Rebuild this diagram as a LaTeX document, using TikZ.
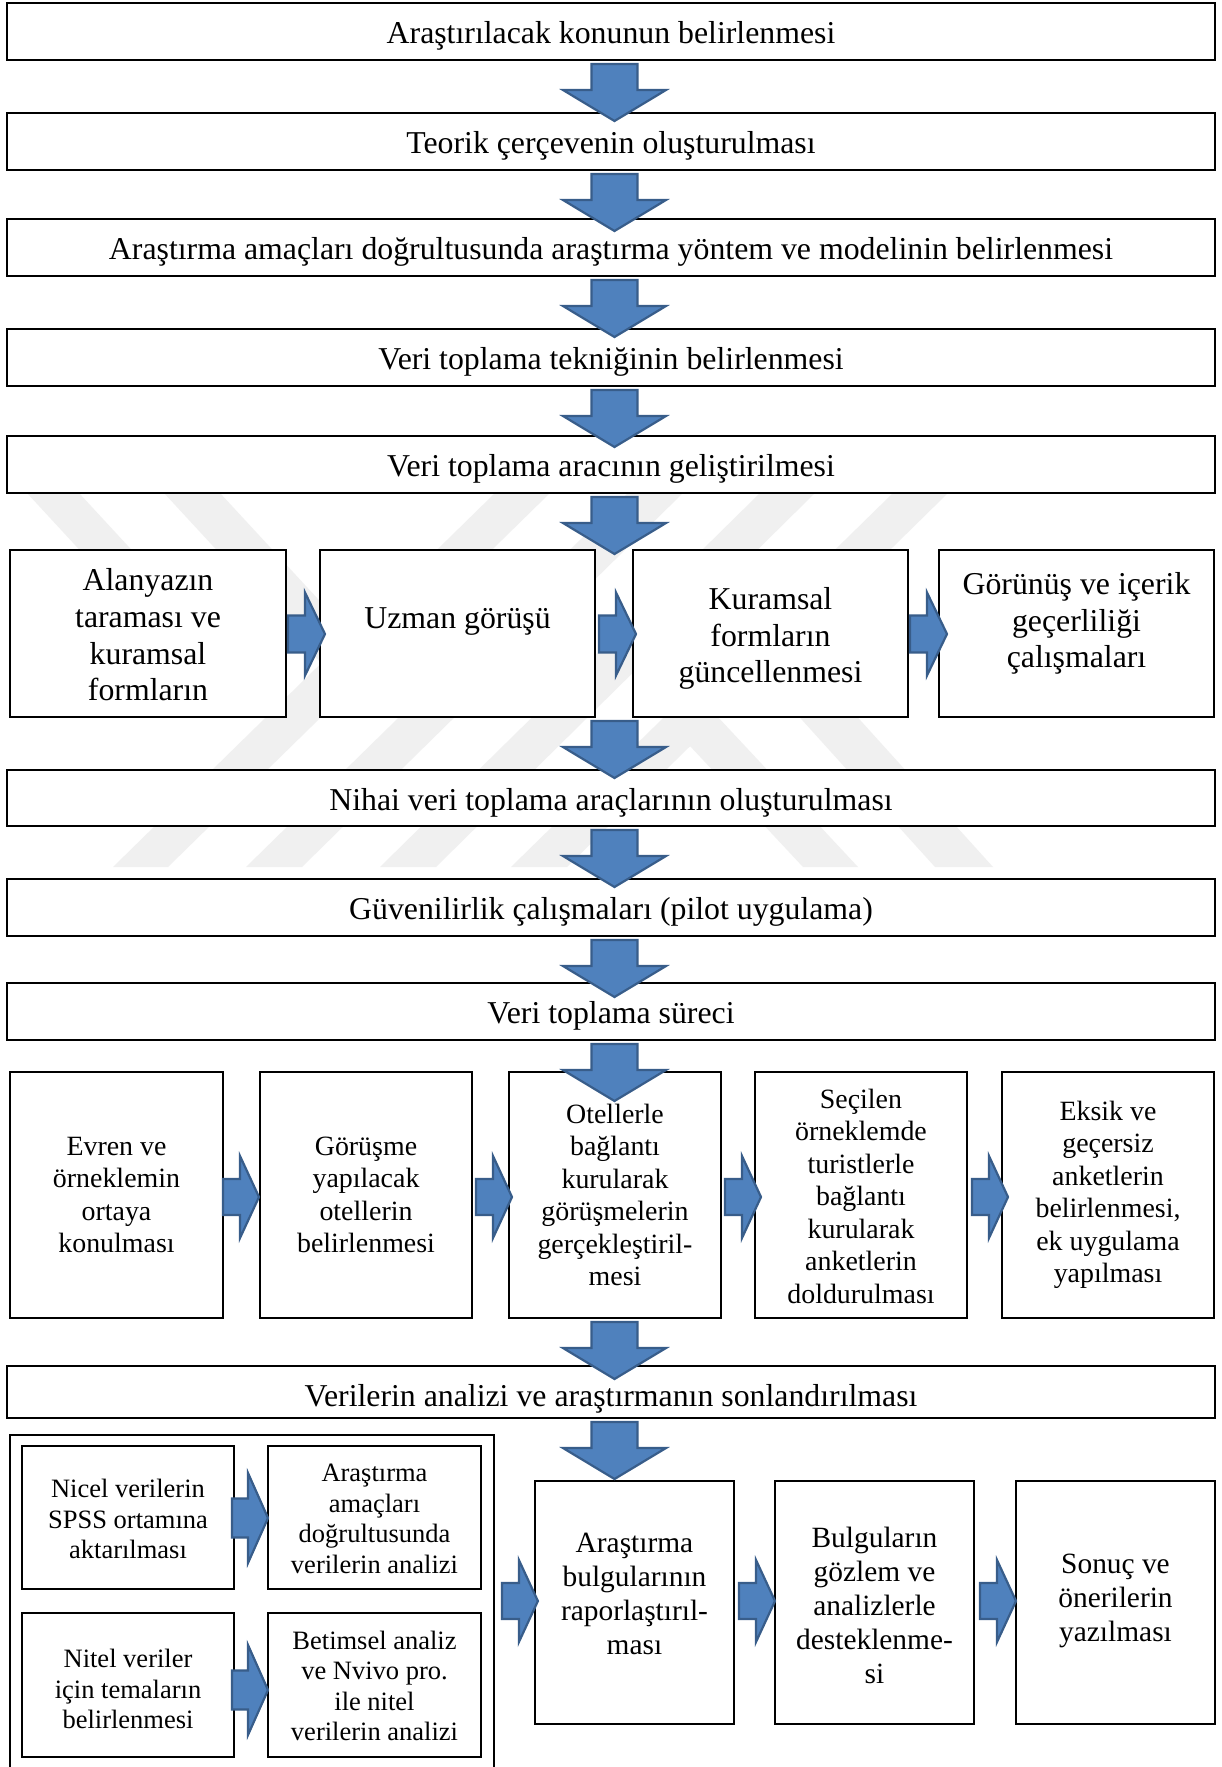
\documentclass[tikz,border=0pt]{standalone}
\usepackage{fontspec}
\setmainfont{Liberation Serif}
\usetikzlibrary{calc}
\definecolor{arrfill}{HTML}{4F81BD}
\definecolor{arrline}{HTML}{385D8A}
\definecolor{wmgray}{HTML}{F0F0F0}

\newcommand{\dnarrow}[1]{%
  \draw[arrst] ($(axis |- #1.south)+(-23,4)$) -- ++(46,0) -- ++(0,26) -- ++(28.5,0)
    -- ++(-51.5,31) -- ++(-51.5,-31) -- ++(28.5,0) -- cycle;}
% #1 start coordinate expr, #2 shaft half height, #3 head half height, #4 shaft length, #5 head length
\newcommand{\rtarrow}[5]{%
  \draw[arrst] ($#1+(0,-#2)$) -- ++(#4,0) -- ++(0,{-(#3-#2)}) -- ++(#5,#3)
    -- ++(-#5,#3) -- ++(0,{-(#3-#2)}) -- ++(-#4,0) -- cycle;}

\begin{document}
\begin{tikzpicture}[x=1pt,y=-1pt,
  boxst/.style={draw=black, line width=1.8pt, fill=white, inner sep=0pt, outer sep=0pt},
  bigtxt/.style={font=\fontsize{31.8}{36.7}\selectfont, align=center, inner sep=0pt},
  rowbtxt/.style={font=\fontsize{27.9}{32.5}\selectfont, align=center, inner sep=0pt},
  ctxt/.style={font=\fontsize{26.5}{30.5}\selectfont, align=center, inner sep=0pt},
  dtxt/.style={font=\fontsize{29.4}{34}\selectfont, align=center, inner sep=0pt},
  arrst/.style={fill=arrfill, draw=arrline, line width=2.2pt, line join=miter},
  wmst/.style={fill=wmgray, draw=none}]

\useasboundingbox (0,0) rectangle (1222,1767);
\clip (0,0) rectangle (1222,1767);
\fill[white] (0,0) rectangle (1222,1767);
\coordinate (axis) at (614.5,0);

% watermark stripes
\fill[wmst] (495,493) -- (550,493) -- (168,867) -- (113,867) -- cycle;
\fill[wmst] (628,493) -- (683,493) -- (302,867) -- (246,867) -- cycle;
\fill[wmst] (760,493) -- (815,493) -- (436,867) -- (380,867) -- cycle;
\fill[wmst] (893,493) -- (948,493) -- (567,867) -- (511,867) -- cycle;
\fill[wmst] (27,493) -- (79,493) -- (261,690) -- (209,690) -- cycle;
\fill[wmst] (164,493) -- (220,493) -- (402,690) -- (346,690) -- cycle;
\fill[wmst] (647,700) -- (702,700) -- (858,867) -- (803,867) -- cycle;
\fill[wmst] (784,700) -- (842,700) -- (993,867) -- (935,867) -- cycle;

% top boxes
\node[boxst, minimum width=1208pt, minimum height=57pt] (b1) at (611,31.5) {};
\node[boxst, minimum width=1208pt, minimum height=57pt] (b2) at (611,141.5) {};
\node[boxst, minimum width=1208pt, minimum height=57pt] (b3) at (611,247.5) {};
\node[boxst, minimum width=1208pt, minimum height=57pt] (b4) at (611,357.5) {};
\node[boxst, minimum width=1208pt, minimum height=57pt] (b5) at (611,464.5) {};
\node[bigtxt] (t1) at ($(b1.center)+(0,4)$) {Araştırılacak konunun belirlenmesi};
\node[bigtxt] (t2) at ($(b2.center)+(0,4)$) {Teorik çerçevenin oluşturulması};
\node[bigtxt] (t3) at ($(b3.center)+(0,4)$) {Araştırma amaçları doğrultusunda araştırma yöntem ve modelinin belirlenmesi};
\node[bigtxt] (t4) at ($(b4.center)+(0,4)$) {Veri toplama tekniğinin belirlenmesi};
\node[bigtxt] (t5) at ($(b5.center)+(0,4)$) {Veri toplama aracının geliştirilmesi};

% row A
\node[boxst, minimum width=276pt, minimum height=167pt] (a1) at (148,633.5) {};
\node[boxst, minimum width=275pt, minimum height=167pt] (a2) at (457.5,633.5) {};
\node[boxst, minimum width=275pt, minimum height=167pt] (a3) at (770.5,633.5) {};
\node[boxst, minimum width=275pt, minimum height=167pt] (a4) at (1076.5,633.5) {};
\node[bigtxt] (ta1) at ($(a1.center)+(0,1.5)$) {Alanyazın\\taraması ve\\kuramsal\\formların};
\node[bigtxt] (ta2) at ($(a2.center)+(0,-12)$) {Uzman görüşü};
\node[bigtxt] (ta3) at ($(a3.center)+(0,5)$) {Kuramsal\\formların\\güncellenmesi};
\node[bigtxt] (ta4) at ($(a4.center)+(0,-10)$) {Görünüş ve içerik\\geçerliliği\\çalışmaları};

\node[boxst, minimum width=1208pt, minimum height=56pt] (b6) at (611,798) {};
\node[boxst, minimum width=1208pt, minimum height=57pt] (b7) at (611,907.5) {};
\node[boxst, minimum width=1208pt, minimum height=57pt] (b8) at (611,1011.5) {};
\node[bigtxt] (t6) at ($(b6.center)+(0,4.5)$) {Nihai veri toplama araçlarının oluşturulması};
\node[bigtxt] (t7) at ($(b7.center)+(0,4)$) {Güvenilirlik çalışmaları (pilot uygulama)};
\node[bigtxt] (t8) at ($(b8.center)+(0,4)$) {Veri toplama süreci};

% row B
\node[boxst, minimum width=213pt, minimum height=246pt] (r1) at (116.5,1195) {};
\node[boxst, minimum width=212pt, minimum height=246pt] (r2) at (366,1195) {};
\node[boxst, minimum width=212pt, minimum height=246pt] (r3) at (615,1195) {};
\node[boxst, minimum width=212pt, minimum height=246pt] (r4) at (861,1195) {};
\node[boxst, minimum width=212pt, minimum height=246pt] (r5) at (1108,1195) {};
\node[rowbtxt] (tr1) at (r1.center) {Evren ve\\örneklemin\\ortaya\\konulması};
\node[rowbtxt] (tr2) at (r2.center) {Görüşme\\yapılacak\\otellerin\\belirlenmesi};
\node[rowbtxt] (tr3) at (r3.center) {Otellerle\\bağlantı\\kurularak\\görüşmelerin\\gerçekleştiril-\\mesi};
\node[rowbtxt] (tr4) at ($(r4.center)+(0,1)$) {Seçilen\\örneklemde\\turistlerle\\bağlantı\\kurularak\\anketlerin\\doldurulması};
\node[rowbtxt] (tr5) at ($(r5.center)+(0,0)$) {Eksik ve\\geçersiz\\anketlerin\\belirlenmesi,\\ek uygulama\\yapılması};

\node[boxst, minimum width=1208pt, minimum height=52pt] (b9) at (611,1392) {};
\node[bigtxt] (t9) at ($(b9.center)+(0,7)$) {Verilerin analizi ve araştırmanın sonlandırılması};

% bottom section
\node[draw=black, line width=1.8pt, inner sep=0pt, minimum width=484pt, minimum height=380pt] (frame) at (252,1625) {};
\node[boxst, minimum width=212pt, minimum height=143pt] (c1) at (128,1517.5) {};
\node[boxst, minimum width=213pt, minimum height=143pt] (c2) at (374.5,1517.5) {};
\node[boxst, minimum width=212pt, minimum height=144pt] (c3) at (128,1685) {};
\node[boxst, minimum width=213pt, minimum height=144pt] (c4) at (374.5,1685) {};
\node[ctxt] (tc1) at ($(c1.center)+(0,1.5)$) {Nicel verilerin\\SPSS ortamına\\aktarılması};
\node[ctxt] (tc2) at ($(c2.center)+(0,1.5)$) {Araştırma\\amaçları\\doğrultusunda\\verilerin analizi};
\node[ctxt] (tc3) at ($(c3.center)+(0,4)$) {Nitel veriler\\için temaların\\belirlenmesi};
\node[ctxt] (tc4) at ($(c4.center)+(0,1)$) {Betimsel analiz\\ve Nvivo pro.\\ile nitel\\verilerin analizi};

\node[boxst, minimum width=199pt, minimum height=243pt] (d1) at (634.5,1602.5) {};
\node[boxst, minimum width=199pt, minimum height=243pt] (d2) at (874.5,1602.5) {};
\node[boxst, minimum width=199pt, minimum height=243pt] (d3) at (1115.5,1602.5) {};
\node[dtxt] (td1) at ($(d1.center)+(0,-8.5)$) {Araştırma\\bulgularının\\raporlaştırıl-\\ması};
\node[dtxt] (td2) at ($(d2.center)+(0,2.5)$) {Bulguların\\gözlem ve\\analizlerle\\desteklenme-\\si};
\node[dtxt] (td3) at ($(d3.center)+(0,-2)$) {Sonuç ve\\önerilerin\\yazılması};

% vertical block arrows
\dnarrow{b1}
\dnarrow{b2}
\dnarrow{b3}
\dnarrow{b4}
\dnarrow{b5}
\dnarrow{a3}
\dnarrow{b6}
\dnarrow{b7}
\dnarrow{b8}
\dnarrow{r3}
\dnarrow{b9}

% horizontal block arrows
\rtarrow{(a1.east)+(2,0.5)}{18.5}{41.5}{17}{20}
\rtarrow{(a2.east)+(4,0.5)}{18.5}{41.5}{17}{20}
\rtarrow{(a3.east)+(2,0.5)}{18.5}{41.5}{17}{20}
\rtarrow{(r1.east)+(0,2)}{18}{41}{17}{19}
\rtarrow{(r2.east)+(4,2)}{18}{41}{17}{19}
\rtarrow{(r3.east)+(4,2)}{18}{41}{17}{19}
\rtarrow{(r4.east)+(5,2)}{18}{41}{17}{19}
\rtarrow{(c1.east)+(-2,0.5)}{19.5}{45}{16}{20}
\rtarrow{(c3.east)+(-2,5)}{19.5}{45}{16}{20}
\rtarrow{(frame.east |- d1.west)+(7,-1.5)}{18}{41}{17}{19}
\rtarrow{(d1.east)+(5,-1.5)}{18}{41}{17}{19}
\rtarrow{(d2.east)+(6,-1.5)}{18}{41}{17}{19}
\end{tikzpicture}
\end{document}
